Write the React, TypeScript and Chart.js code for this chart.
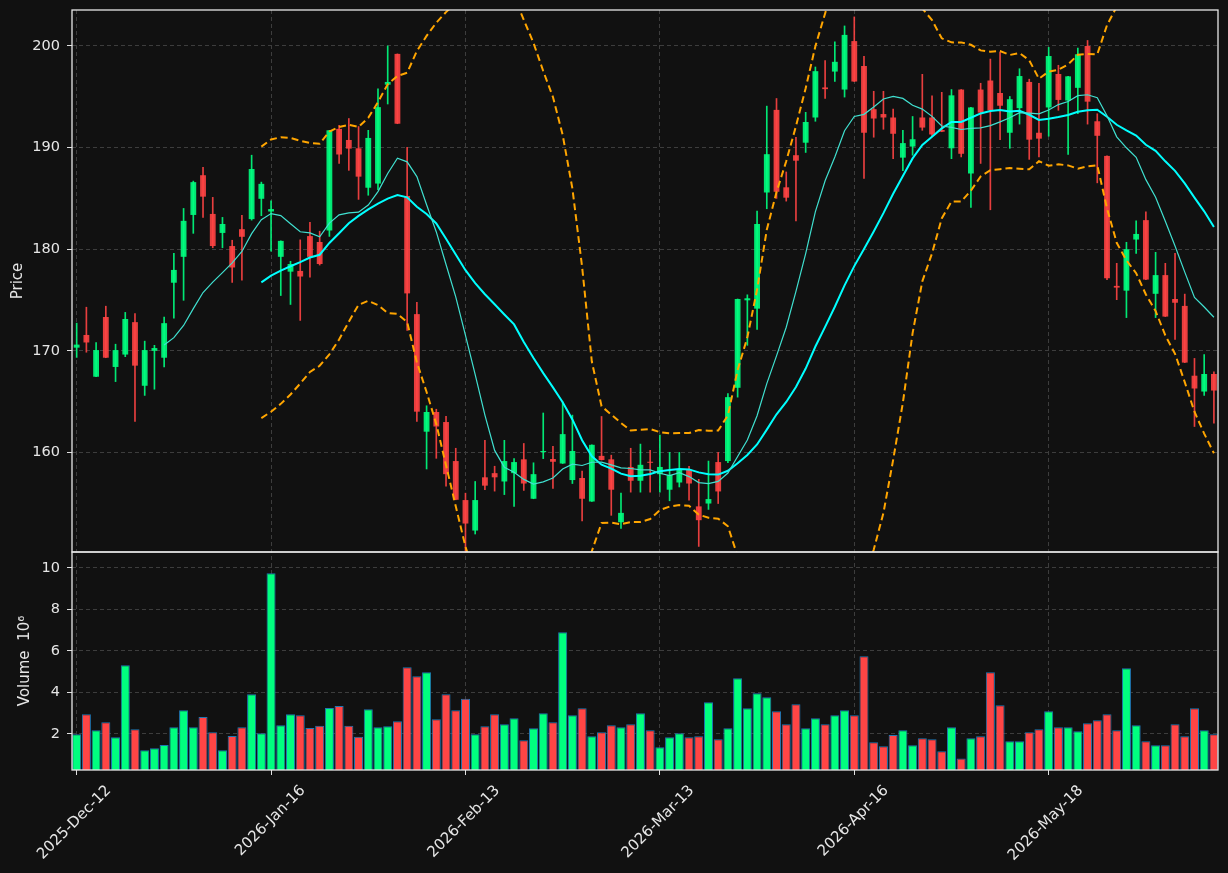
import React, { useEffect, useRef } from 'react';
import { Chart, registerables } from 'chart.js';

Chart.register(...registerables);

// ---- Data ----
const tickIndex = [0, 20, 40, 60, 80, 100];
const tickLabels = ['2025-Dec-12', '2026-Jan-16', '2026-Feb-13', '2026-Mar-13', '2026-Apr-16', '2026-May-18'];

const opens = [
  170.31, 171.56, 167.45, 173.33, 168.41, 169.63, 172.82, 166.56, 170.0, 169.32,
  176.7, 179.25, 183.37, 187.28, 183.47, 181.6, 180.31, 181.97, 182.96, 184.96,
  183.71, 179.25, 177.79, 177.86, 181.29, 180.71, 181.84, 191.84, 190.75, 189.93,
  186.05, 186.46, 196.19, 199.22, 185.24, 173.61, 162.04, 163.98, 162.99, 159.15,
  155.31, 152.31, 157.55, 157.96, 157.14, 157.96, 159.32, 155.44, 160.03, 159.35,
  158.91, 157.28, 157.48, 155.17, 159.66, 159.32, 153.13, 158.57, 157.21, 159.08,
  157.86, 156.33, 157.04, 158.3, 154.69, 154.97, 159.05, 159.15, 166.36, 174.97,
  174.15, 185.58, 193.71, 186.09, 189.25, 190.48, 192.96, 195.92, 197.48, 195.71,
  200.48, 198.03, 193.78, 193.3, 192.96, 189.01, 190.1, 192.96, 192.96, 191.73,
  189.93, 195.71, 187.45, 195.71, 196.6, 195.37, 191.46, 193.88, 196.46, 191.46,
  193.95, 197.24, 194.63, 195.88, 200.0, 192.59, 189.18, 176.39, 175.92, 180.95,
  182.86, 175.61, 177.45, 175.1, 174.42, 167.55, 165.99, 167.72,
];
const highs = [
  172.72, 174.29, 170.82, 174.39, 170.65, 173.78, 173.67, 170.95, 170.54, 173.33,
  179.59, 184.01, 186.7, 188.06, 185.1, 183.13, 180.88, 183.33, 189.25, 186.6,
  184.76, 180.82, 178.81, 180.92, 182.65, 181.77, 191.7, 192.18, 192.86, 192.07,
  191.7, 195.78, 200.0, 199.22, 190.03, 174.76, 164.59, 164.25, 163.54, 160.41,
  155.99, 157.14, 161.19, 158.64, 161.19, 159.39, 160.88, 158.98, 163.88, 160.61,
  164.97, 163.67, 158.16, 160.75, 163.54, 159.73, 155.99, 160.41, 160.82, 160.2,
  161.7, 160.0, 160.0, 158.64, 157.35, 159.15, 160.0, 165.78, 175.1, 175.51,
  183.74, 194.08, 194.83, 187.6, 191.02, 193.47, 197.93, 198.57, 200.41, 201.97,
  202.86, 198.98, 195.54, 195.54, 193.78, 191.7, 193.06, 197.21, 195.1, 195.44,
  195.71, 195.71, 193.95, 196.33, 198.71, 199.39, 195.03, 197.76, 196.73, 196.33,
  199.86, 198.1, 197.01, 199.8, 200.54, 193.33, 189.18, 178.61, 180.68, 182.79,
  183.67, 179.69, 178.61, 179.59, 175.58, 169.25, 169.63, 167.93,
];
const lows = [
  169.35, 169.86, 167.45, 169.32, 166.97, 169.42, 163.06, 165.61, 166.22, 168.41,
  173.2, 174.97, 181.56, 183.13, 180.14, 180.14, 176.73, 176.94, 182.86, 183.3,
  179.8, 175.44, 174.56, 172.99, 177.24, 178.44, 181.26, 188.44, 187.76, 184.9,
  185.31, 185.85, 194.29, 192.35, 172.0, 163.06, 158.37, 159.42, 156.67, 155.34,
  150.0, 151.97, 156.33, 156.19, 155.85, 154.69, 156.26, 155.44, 159.39, 156.46,
  158.91, 156.94, 153.27, 155.17, 159.25, 153.81, 152.52, 156.09, 156.09, 156.09,
  156.09, 155.24, 156.6, 155.31, 150.75, 154.39, 154.97, 158.98, 165.44, 170.54,
  172.11, 183.98, 185.0, 184.73, 182.79, 189.52, 192.59, 194.83, 196.5, 194.97,
  196.5, 186.97, 191.02, 191.8, 188.91, 187.72, 189.25, 191.7, 191.12, 191.56,
  188.91, 189.08, 184.12, 188.44, 183.88, 190.78, 189.93, 192.31, 188.84, 189.08,
  191.12, 193.67, 189.32, 193.33, 192.31, 186.53, 177.01, 175.03, 173.27, 179.59,
  177.01, 173.27, 173.37, 171.12, 168.84, 162.55, 165.61, 162.89,
];
const closes = [
  170.61, 170.82, 170.07, 169.32, 170.07, 173.13, 168.54, 170.07, 170.27, 172.72,
  177.96, 182.79, 186.6, 185.17, 180.31, 182.48, 178.2, 181.22, 187.89, 186.43,
  183.95, 180.82, 178.54, 177.31, 179.25, 178.54, 191.7, 189.32, 189.9, 187.14,
  190.95, 193.98, 196.46, 192.35, 175.65, 164.01, 163.98, 162.55, 157.86, 155.34,
  153.0, 155.31, 156.73, 157.55, 159.15, 159.05, 156.94, 157.86, 160.14, 159.08,
  161.8, 160.14, 155.44, 160.75, 159.25, 156.33, 154.05, 157.21, 158.78, 158.98,
  158.57, 157.79, 158.3, 156.94, 153.33, 155.41, 156.16, 165.44, 175.1, 175.17,
  182.48, 189.35, 185.65, 185.07, 188.71, 192.52, 197.52, 195.75, 198.44, 201.09,
  196.5, 191.46, 192.86, 192.96, 191.36, 190.44, 190.82, 191.97, 191.29, 191.56,
  195.14, 189.39, 193.95, 193.44, 193.67, 194.12, 194.76, 197.04, 190.78, 190.88,
  199.01, 194.69, 197.01, 199.18, 194.52, 191.16, 177.14, 176.22, 180.0, 181.5,
  177.01, 177.45, 173.37, 174.73, 168.84, 166.29, 167.72, 166.09,
];
const volumes = [
  1.98, 2.95, 2.18, 2.56, 1.84, 5.31, 2.22, 1.21, 1.31, 1.47,
  2.32, 3.14, 2.32, 2.82, 2.08, 1.21, 1.9, 2.32, 3.91, 2.03,
  9.74, 2.42, 2.95, 2.9, 2.29, 2.39, 3.25, 3.35, 2.39, 1.86,
  3.19, 2.32, 2.37, 2.61, 5.21, 4.78, 4.97, 2.71, 3.91, 3.14,
  3.69, 1.98, 2.37, 2.95, 2.47, 2.76, 1.69, 2.27, 3.0, 2.56,
  6.9, 2.9, 3.24, 1.89, 2.08, 2.42, 2.32, 2.47, 3.0, 2.18,
  1.36, 1.84, 2.03, 1.84, 1.89, 3.53, 1.74, 2.27, 4.68, 3.24,
  3.96, 3.77, 3.09, 2.47, 3.43, 2.27, 2.76, 2.47, 2.9, 3.14,
  2.9, 5.74, 1.6, 1.41, 1.95, 2.18, 1.45, 1.79, 1.74, 1.16,
  2.32, 0.81, 1.79, 1.89, 4.97, 3.38, 1.65, 1.65, 2.08, 2.22,
  3.09, 2.32, 2.32, 2.13, 2.51, 2.66, 2.95, 2.18, 5.16, 2.42,
  1.65, 1.45, 1.45, 2.47, 1.89, 3.24, 2.18, 1.98,
];
const priceTicks = [160, 170, 180, 190, 200];
const volumeTicks = [2, 4, 6, 8, 10];

// ---- indicators derived from the closes ----
function rollingMean(arr: number[], n: number): (number | null)[] {
  return arr.map((_, i) => {
    if (i < n - 1) return null;
    let s = 0;
    for (let k = i - n + 1; k <= i; k++) s += arr[k];
    return s / n;
  });
}
function rollingStd(arr: number[], n: number): (number | null)[] {
  const m = rollingMean(arr, n);
  return arr.map((_, i) => {
    const mu = m[i];
    if (mu === null) return null;
    let s = 0;
    for (let k = i - n + 1; k <= i; k++) s += (arr[k] - mu) * (arr[k] - mu);
    return Math.sqrt(s / n);
  });
}

const TEXT = '#e6e6e6';
const GRID = '#3d3d3d';
const FONT = 'DejaVu Sans';

export default function App() {
  const ref = useRef<HTMLCanvasElement | null>(null);

  useEffect(() => {
    document.body.style.margin = '0';
    document.body.style.background = '#111111';
    const canvas = ref.current;
    if (!canvas) return;

    const ma10 = rollingMean(closes, 10);
    const ma20 = rollingMean(closes, 20);
    const sd20 = rollingStd(closes, 20);
    const bbUp = ma20.map((m, i) => (m === null ? null : m + 2 * (sd20[i] as number)));
    const bbLo = ma20.map((m, i) => (m === null ? null : m - 2 * (sd20[i] as number)));

    const isUp = closes.map((c, i) => c >= opens[i]);
    const candleCol = isUp.map((u) => (u ? 'rgba(0,255,127,0.9)' : 'rgba(255,68,68,0.9)'));
    const volCol = isUp.map((u) => (u ? '#00ff7f' : '#ff4545'));

    const pts = (arr: (number | null)[]) => arr.map((v, i) => ({ x: i, y: v }));

    const panelPlugin = {
      id: 'panels',
      beforeDatasetDraw(chart: any, args: any) {
        const ds = chart.data.datasets[args.index];
        const ys = chart.scales[ds.yAxisID];
        const a = chart.chartArea;
        const ctx = chart.ctx;
        ctx.save();
        ctx.beginPath();
        ctx.rect(a.left, ys.top, a.right - a.left, ys.bottom - ys.top);
        ctx.clip();
      },
      afterDatasetDraw(chart: any) {
        chart.ctx.restore();
      },
      afterDraw(chart: any) {
        const ctx = chart.ctx;
        const a = chart.chartArea;
        ctx.save();
        ctx.strokeStyle = '#e8e8e8';
        ctx.lineWidth = 1.3;
        ctx.setLineDash([]);
        for (const id of ['y', 'yVol']) {
          const s = chart.scales[id];
          ctx.strokeRect(a.left, s.top, a.right - a.left, s.bottom - s.top);
        }
        ctx.restore();
      },
    };

    const yCommon = (weight: number) => ({
      type: 'linear' as const,
      position: 'left' as const,
      stack: 'panels',
      stackWeight: weight,
      grid: {
        color: GRID,
        lineWidth: 1,
        drawTicks: true,
        tickLength: 5,
        tickColor: '#e0e0e0',
        tickWidth: 1,
        tickBorderDash: [],
      },
      border: { display: false, dash: [4, 3] },
      ticks: { color: TEXT, font: { family: FONT, size: 14.5 }, padding: 7 },
      afterFit: (s: any) => {
        s.width = 72;
        s.paddingTop = 0;
        s.paddingBottom = 0;
      },
    });

    const chart = new Chart(canvas, {
      type: 'bar',
      data: {
        datasets: [
          {
            type: 'line',
            label: 'MA10',
            data: pts(ma10),
            borderColor: '#40e0d0',
            borderWidth: 1.2,
            pointRadius: 0,
            yAxisID: 'y',
            order: 0,
          },
          {
            type: 'line',
            label: 'MA20',
            data: pts(ma20),
            borderColor: '#00ffff',
            borderWidth: 2,
            pointRadius: 0,
            yAxisID: 'y',
            order: 0,
          },
          {
            type: 'line',
            label: 'BB upper',
            data: pts(bbUp),
            borderColor: '#ffa500',
            borderWidth: 2,
            borderDash: [7, 4],
            pointRadius: 0,
            yAxisID: 'y',
            order: 0,
          },
          {
            type: 'line',
            label: 'BB lower',
            data: pts(bbLo),
            borderColor: '#ffa500',
            borderWidth: 2,
            borderDash: [7, 4],
            pointRadius: 0,
            yAxisID: 'y',
            order: 0,
          },
          {
            type: 'bar',
            label: 'Body',
            data: opens.map((o, i) => ({ x: i, y: [o, closes[i]] })) as any,
            backgroundColor: candleCol,
            borderWidth: 0,
            grouped: false,
            barPercentage: 0.6,
            categoryPercentage: 1,
            yAxisID: 'y',
            order: 1,
          },
          {
            type: 'bar',
            label: 'Wick',
            data: lows.map((l, i) => ({ x: i, y: [l, highs[i]] })) as any,
            backgroundColor: candleCol,
            borderWidth: 0,
            grouped: false,
            barThickness: 1,
            yAxisID: 'y',
            order: 2,
          },
          {
            type: 'bar',
            label: 'Volume',
            data: volumes.map((v, i) => ({ x: i, y: v })) as any,
            backgroundColor: volCol,
            borderColor: '#1f77b4',
            borderWidth: 1,
            grouped: false,
            barPercentage: 0.93,
            categoryPercentage: 1,
            yAxisID: 'yVol',
            order: 3,
          },
        ],
      },
      options: {
        responsive: false,
        animation: false,
        devicePixelRatio: 1,
        layout: { padding: { left: 0, top: 10, right: 10, bottom: 0 } },
        plugins: {
          legend: { display: false },
          tooltip: { enabled: false },
        },
        scales: {
          x: {
            type: 'linear',
            min: -0.48,
            max: 117.42,
            offset: false,
            grid: {
              color: GRID,
              lineWidth: 1,
              offset: false,
              drawTicks: true,
              tickLength: 5,
              tickColor: '#e0e0e0',
              tickWidth: 1,
              tickBorderDash: [],
            },
            border: { display: false, dash: [4, 3] },
            ticks: {
              color: TEXT,
              font: { family: FONT, size: 15 },
              minRotation: 45,
              maxRotation: 45,
              autoSkip: false,
              labelOffset: 32,
              padding: 7,
              callback: (v: any) => {
                const k = tickIndex.indexOf(Number(v));
                return k >= 0 ? tickLabels[k] : '';
              },
            },
            afterBuildTicks: (s: any) => {
              s.ticks = tickIndex.map((v) => ({ value: v }));
            },
            afterFit: (s: any) => {
              s.height = 103;
              s.paddingLeft = 0;
              s.paddingRight = 0;
            },
          },
          yVol: {
            ...yCommon(218),
            min: 0.26,
            max: 10.77,
            afterBuildTicks: (s: any) => {
              s.ticks = volumeTicks.map((v) => ({ value: v }));
            },
            title: {
              display: true,
              text: 'Volume  10\u2076',
              color: TEXT,
              font: { family: FONT, size: 15 },
              padding: { top: 16.5, bottom: 0 },
            },
          },
          y: {
            ...yCommon(542),
            min: 150.2,
            max: 203.54,
            afterBuildTicks: (s: any) => {
              s.ticks = priceTicks.map((v) => ({ value: v }));
            },
            title: {
              display: true,
              text: 'Price',
              color: TEXT,
              font: { family: FONT, size: 15 },
              padding: { top: 9.5, bottom: 0 },
            },
          },
        },
      } as any,
      plugins: [panelPlugin],
    });

    return () => {
      chart.destroy();
    };
  }, []);

  return (
    <div style={{ position: 'fixed', left: 0, top: 0, width: 1228, height: 873, background: '#111111' }}>
      <canvas ref={ref} width={1228} height={873} style={{ display: 'block' }} />
    </div>
  );
}
